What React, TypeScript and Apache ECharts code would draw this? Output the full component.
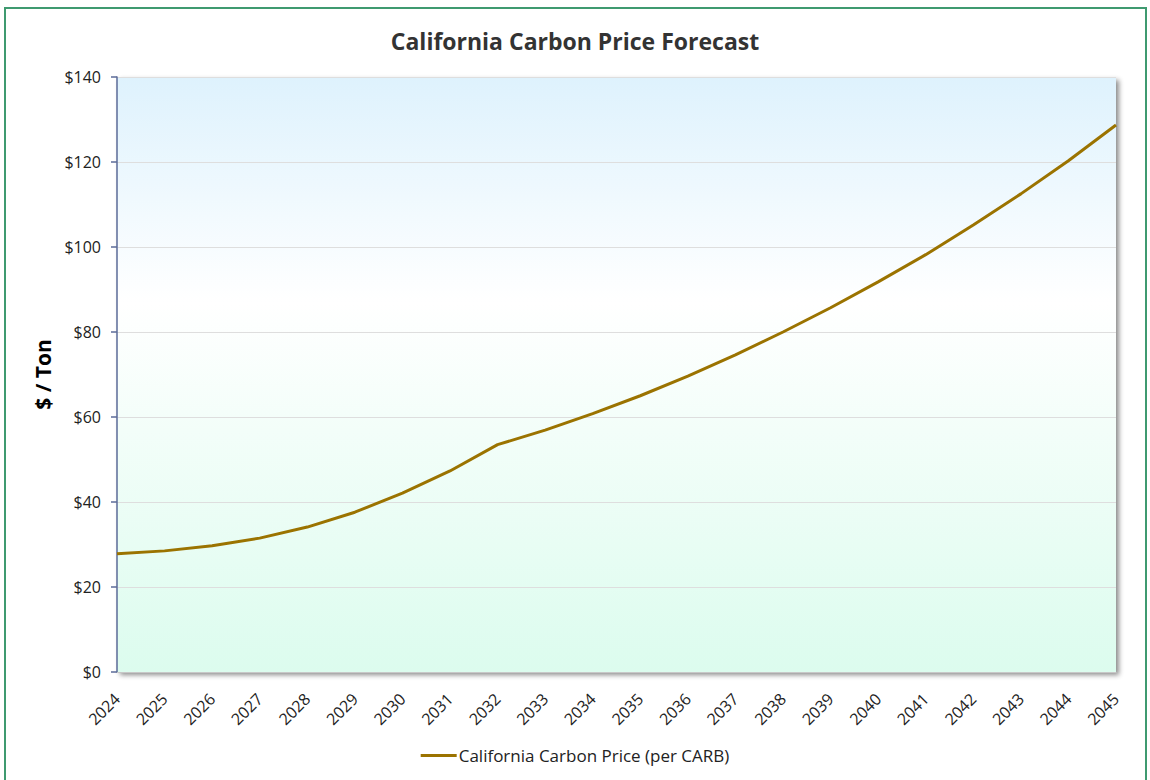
import React, { useEffect, useRef } from "react";
import * as echarts from "echarts";

const years: string[] = [
  "2024", "2025", "2026", "2027", "2028", "2029", "2030", "2031", "2032", "2033", "2034",
  "2035", "2036", "2037", "2038", "2039", "2040", "2041", "2042", "2043", "2044", "2045",
];

const carbonPrice: number[] = [
  27.8, 28.5, 29.7, 31.5, 34.1, 37.6, 42.1, 47.3, 53.5, 56.9, 60.8,
  65.0, 69.6, 74.6, 80.0, 85.7, 91.8, 98.2, 105.2, 112.5, 120.3, 128.7,
];

const seriesName = "California Carbon Price (per CARB)";
const yTicks = { min: 0, max: 140, interval: 20 };

const FONT = "'Open Sans', 'Noto Sans', sans-serif";

export default function App() {
  const ref = useRef<HTMLDivElement>(null);

  useEffect(() => {
    if (!ref.current) return;
    const chart = echarts.init(ref.current, undefined, { renderer: "svg" });
    chart.setOption({
      animation: false,
      backgroundColor: "#ffffff",
      textStyle: { fontFamily: FONT },
      title: {
        text: "California Carbon Price Forecast",
        left: "center",
        top: 24,
        textStyle: { fontFamily: FONT, fontSize: 23, fontWeight: "bold", color: "#333333" },
      },
      graphic: [
        {
          type: "rect",
          shape: { x: 5, y: 8, width: 1141, height: 800 },
          style: { fill: "none", stroke: "#3f9a70", lineWidth: 2 },
          silent: true,
          z: 100,
        },
      ],
      legend: {
        bottom: 11,
        left: "center",
        itemWidth: 36,
        itemHeight: 3,
        itemGap: 4,
        icon: "rect",
        textStyle: { fontFamily: FONT, fontSize: 17, color: "#222222", padding: [0, 0, 0, -3] },
        data: [seriesName],
      },
      grid: {
        left: 117,
        right: 34,
        top: 77,
        bottom: 108,
        show: true,
        borderWidth: 0,
        backgroundColor: new echarts.graphic.LinearGradient(0, 0, 0, 1, [
          { offset: 0, color: "#def2fd" },
          { offset: 0.38, color: "#ffffff" },
          { offset: 1, color: "#dcfcee" },
        ]),
        shadowColor: "rgba(0,0,0,0.45)",
        shadowBlur: 5,
        shadowOffsetX: 3,
        shadowOffsetY: 3,
      },
      xAxis: {
        type: "category",
        data: years,
        boundaryGap: false,
        axisLine: { show: true, lineStyle: { color: "#c8c8c8", width: 1 } },
        axisTick: { show: false },
        axisLabel: {
          rotate: 45,
          fontFamily: FONT,
          fontSize: 16,
          color: "#222222",
          margin: 24,
          interval: 0,
        },
        splitLine: { show: false },
      },
      yAxis: {
        type: "value",
        min: yTicks.min,
        max: yTicks.max,
        interval: yTicks.interval,
        name: "$ / Ton",
        nameLocation: "middle",
        nameGap: 64,
        nameTextStyle: { fontFamily: FONT, fontSize: 21, fontWeight: "bold", color: "#000000" },
        axisLine: { show: true, lineStyle: { color: "#5b6b98", width: 1.5 } },
        axisTick: { show: true, length: 6, lineStyle: { color: "#5b6b98", width: 1.5 } },
        axisLabel: {
          fontFamily: FONT,
          fontSize: 16,
          color: "#222222",
          margin: 16,
          formatter: (v: number) => "$" + v,
        },
        splitLine: { show: true, lineStyle: { color: "#dedede", width: 1 } },
      },
      series: [
        {
          name: seriesName,
          type: "line",
          data: carbonPrice,
          symbol: "none",
          smooth: false,
          lineStyle: { color: "#9b7300", width: 3 },
          itemStyle: { color: "#9b7300" },
        },
      ],
    });
    return () => chart.dispose();
  }, []);

  return (
    <div
      ref={ref}
      style={{ position: "fixed", left: 0, top: 0, width: 1150, height: 780 }}
    />
  );
}
